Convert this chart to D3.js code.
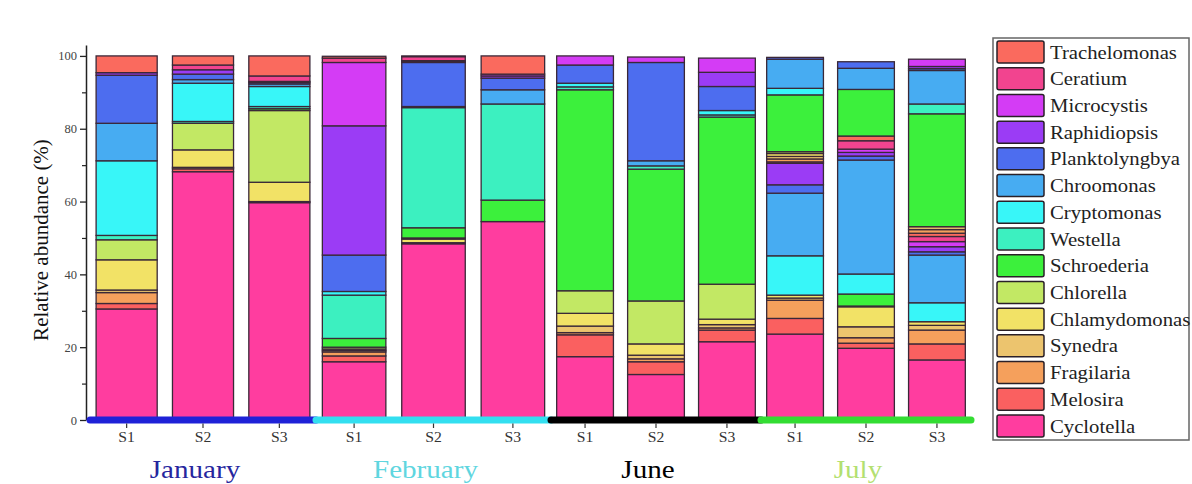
<!DOCTYPE html>
<html>
<head>
<meta charset="utf-8">
<script src="https://cdn.jsdelivr.net/npm/d3@7"></script>
<style>
  body { margin: 0; background: #fff; }
  svg { display: block; }
</style>
</head>
<body>
<svg id="chart" width="1192" height="484"></svg>
<script>
// Sampling sites and months
const samples = ["S1", "S2", "S3", "S1", "S2", "S3", "S1", "S2", "S3", "S1", "S2", "S3"];
const months = ["January", "February", "June", "July"];
const yTicks = [0, 20, 40, 60, 80, 100];

// Taxa, stacked from the bottom of each bar upwards
const taxa = ["Cyclotella", "Melosira", "Fragilaria", "Synedra", "Chlamydomonas", "Chlorella",
  "Schroederia", "Westella", "Cryptomonas", "Chroomonas", "Planktolyngbya", "Raphidiopsis",
  "Microcystis", "Ceratium", "Trachelomonas"];

// Relative abundance (%) per sample: Jan S1-S3, Feb S1-S3, Jun S1-S3, Jul S1-S3
const cyclotella     = [30.5, 68.2, 59.7, 16.0, 48.4, 54.5, 17.4, 12.5, 21.5, 23.6, 19.7, 16.5];
const melosira       = [1.5, 0.8, 0, 1.6, 0, 0, 6.0, 3.5, 3.2, 4.3, 1.4, 4.4];
const fragilaria     = [3.0, 0, 0, 1.1, 0, 0, 0.6, 0.8, 0.6, 5.0, 1.5, 3.8];
const synedra        = [0.7, 0.4, 0.3, 0.4, 0.3, 0, 1.8, 1.0, 0.9, 0.6, 3.0, 1.3];
const chlamydomonas  = [8.3, 4.8, 5.3, 0.4, 1.0, 0, 3.5, 3.1, 1.5, 0.8, 5.5, 1.0];
const chlorella      = [5.5, 7.3, 19.7, 0.5, 0.3, 0, 6.2, 11.8, 9.6, 0, 0.2, 0];
const schroederia    = [0, 0, 0.5, 2.4, 2.8, 5.9, 55.2, 36.2, 45.9, 0, 3.3, 0];
const westella       = [1.2, 0.5, 0.6, 11.9, 33.0, 26.4, 0.8, 0.9, 0.6, 0, 0, 0];
const cryptomonas    = [20.5, 10.5, 5.5, 1.0, 0, 0, 1.0, 0, 1.2, 10.8, 5.5, 5.2];
const chroomonas     = [10.3, 1.0, 0.7, 0, 0.3, 3.9, 0, 1.4, 0, 17.2, 31.3, 13.1];
const planktolyngbya = [13.2, 1.5, 0.4, 10.0, 12.1, 3.2, 5.0, 27.0, 6.6, 2.3, 1.1, 0.9];
const raphidiopsis   = [0.7, 1.2, 0.3, 35.5, 0.3, 0.6, 0, 0, 3.9, 5.9, 1.0, 1.4];
const microcystis    = [0, 0, 0, 17.4, 0.2, 0.5, 2.5, 1.5, 3.9, 0, 0.9, 1.4];
const ceratium       = [0, 1.3, 1.5, 1.2, 1.1, 0, 0, 0, 0, 0, 2.3, 1.4];
const trachelomonas  = [4.6, 2.5, 5.5, 0.5, 0.2, 5.0, 0, 0, 0, 0, 1.3, 0.9];

// Further taxa recorded only in July (S1, S2, S3); series 16 onwards reuse the
// fill sequence from the start, so series n takes colour (n - 1) % 15
const julyTaxon17 = [0.4, 0, 0];
const julyTaxon18 = [0.8, 0, 1.0];
const julyTaxon19 = [0.7, 0, 0.8];
const julyTaxon20 = [0.8, 0, 0];
const julyTaxon21 = [0.5, 0, 0];
const julyTaxon22 = [15.6, 12.8, 31.0];
const julyTaxon23 = [0, 0, 2.7];
const julyTaxon24 = [1.8, 0, 0];
const julyTaxon25 = [8.0, 5.8, 9.2];
const julyTaxon26 = [0.5, 1.8, 0.5];
const julyTaxon27 = [0, 0, 0.6];
const julyTaxon28 = [0, 0, 2.0];

// Colours
const palette = ["#ff3d9f", "#fa6060", "#f5a05c", "#ecc46e", "#f2e266", "#c2e864", "#3cf03c",
  "#3cf0c0", "#38f6f8", "#47acf2", "#4d6def", "#9b3cf5", "#d43cf5", "#f2448f", "#fa6a5e"];
const monthTextColors = ["#26269e", "#5fd6df", "#000000", "#b3e070"];
const monthLineColors = ["#1f22d8", "#33dff0", "#000000", "#33dd33"];

// ---- build stacked segments ----
const baseSeries = [cyclotella, melosira, fragilaria, synedra, chlamydomonas, chlorella,
  schroederia, westella, cryptomonas, chroomonas, planktolyngbya, raphidiopsis,
  microcystis, ceratium, trachelomonas];
const julySeries = [julyTaxon17, julyTaxon18, julyTaxon19, julyTaxon20, julyTaxon21, julyTaxon22,
  julyTaxon23, julyTaxon24, julyTaxon25, julyTaxon26, julyTaxon27, julyTaxon28];
const julyFirstNumber = 17;
const julyStart = 9;

const segments = [];
samples.forEach((s, i) => {
  let acc = 0;
  baseSeries.forEach((vals, k) => {
    const v = vals[i];
    if (v > 0) segments.push({ i, y0: acc, y1: acc + v, color: palette[k] });
    acc += v;
  });
  if (i >= julyStart) {
    julySeries.forEach((vals, j) => {
      const v = vals[i - julyStart];
      const slot = (julyFirstNumber + j - 1) % palette.length;
      if (v > 0) segments.push({ i, y0: acc, y1: acc + v, color: palette[slot] });
      acc += v;
    });
  }
});

// ---- layout ----
const svg = d3.select("#chart");
const monthEdges = [90, 316, 551, 761, 971];
const axisY = 420;
const y = d3.scaleLinear().domain([0, 103]).range([axisY, 45]);

const bands = months.map((m, mi) =>
  d3.scaleBand().domain([0, 1, 2]).range([monthEdges[mi], monthEdges[mi + 1]])
    .paddingInner(0.2).paddingOuter(0.08));
const barX = i => bands[Math.floor(i / 3)](i % 3);
const barW = i => bands[Math.floor(i / 3)].bandwidth();
const barC = i => barX(i) + barW(i) / 2;

const serif = "'Liberation Serif', 'Times New Roman', serif";
const stretch = 1.12;

// bars
svg.append("g").selectAll("rect").data(segments).join("rect")
  .attr("x", d => barX(d.i))
  .attr("width", d => barW(d.i))
  .attr("y", d => y(d.y1))
  .attr("height", d => y(d.y0) - y(d.y1))
  .attr("fill", d => d.color)
  .attr("stroke", "#3a2838")
  .attr("stroke-width", 1.3);

// y axis
const yAxis = svg.append("g").attr("transform", "translate(86,0)")
  .call(d3.axisLeft(y).tickValues(yTicks).tickSize(6).tickSizeOuter(0).tickPadding(3));
yAxis.select(".domain").attr("stroke", "#222").attr("stroke-width", 1.5);
yAxis.selectAll(".tick line").attr("stroke", "#222").attr("stroke-width", 1.3);
yAxis.selectAll(".tick text").attr("font-family", serif).attr("font-size", 12.5).attr("fill", "#444");
const yMinor = svg.append("g").attr("transform", "translate(86,0)")
  .call(d3.axisLeft(y).tickValues([10, 30, 50, 70, 90]).tickSize(4).tickFormat(""));
yMinor.select(".domain").remove();
yMinor.selectAll(".tick line").attr("stroke", "#222").attr("stroke-width", 1.2);

svg.append("text")
  .attr("transform", "translate(48,240) rotate(-90)")
  .attr("text-anchor", "middle")
  .attr("font-family", serif).attr("font-size", 21).attr("fill", "#111")
  .text("Relative abundance (%)");

// x axis: one coloured baseline per month
svg.append("g").selectAll("line").data(months).join("line")
  .attr("x1", (d, mi) => monthEdges[mi])
  .attr("x2", (d, mi) => monthEdges[mi + 1])
  .attr("y1", axisY).attr("y2", axisY)
  .attr("stroke", (d, mi) => monthLineColors[mi])
  .attr("stroke-width", 7)
  .attr("stroke-linecap", "round");

svg.append("g").selectAll("line").data(samples).join("line")
  .attr("x1", (d, i) => barC(i)).attr("x2", (d, i) => barC(i))
  .attr("y1", axisY + 3.5).attr("y2", axisY + 8)
  .attr("stroke", "#333").attr("stroke-width", 1.2);

svg.append("g").selectAll("text").data(samples).join("text")
  .attr("transform", (d, i) => `translate(${barC(i)},${axisY + 22}) scale(${stretch},1)`)
  .attr("text-anchor", "middle")
  .attr("font-family", serif).attr("font-size", 14).attr("fill", "#333")
  .text(d => d);

svg.append("g").selectAll("text").data(months).join("text")
  .attr("transform", (d, mi) => `translate(${barC(mi * 3 + 1) - 8},${axisY + 58}) scale(${stretch},1)`)
  .attr("text-anchor", "middle")
  .attr("font-family", serif).attr("font-size", 26)
  .attr("fill", (d, mi) => monthTextColors[mi])
  .text(d => d);

// legend
const legend = svg.append("g");
legend.append("rect")
  .attr("x", 993).attr("y", 38).attr("width", 196).attr("height", 402)
  .attr("fill", "#fff").attr("stroke", "#666").attr("stroke-width", 1.5);
const legendRows = taxa.map((t, k) => k).reverse();
const rowY = d3.scaleLinear().domain([0, legendRows.length - 1]).range([52, 426]);
legend.selectAll("rect.sw").data(legendRows).join("rect")
  .attr("class", "sw")
  .attr("x", 997).attr("y", (d, r) => rowY(r) - 11)
  .attr("width", 47).attr("height", 22).attr("rx", 2)
  .attr("fill", d => palette[d])
  .attr("stroke", "#2a2028").attr("stroke-width", 1.5);
legend.selectAll("text").data(legendRows).join("text")
  .attr("transform", (d, r) => `translate(1050,${rowY(r) + 6.5}) scale(${stretch},1)`)
  .attr("font-family", serif).attr("font-size", 18.5).attr("fill", "#222")
  .text(d => taxa[d]);
</script>
</body>
</html>
